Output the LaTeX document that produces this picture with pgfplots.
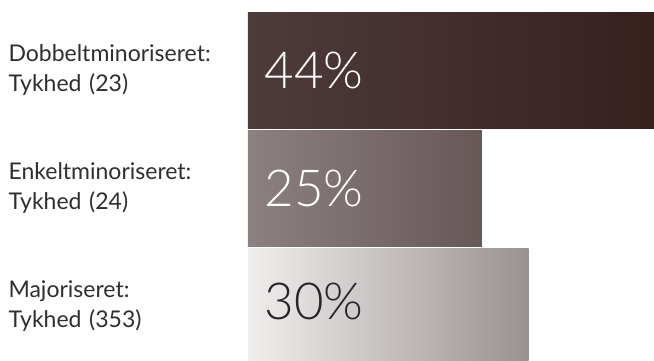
\documentclass[border=0pt]{standalone}
\usepackage{pgfplots}
\pgfplotsset{compat=1.18}
\usepackage{fontspec}
\setmainfont{Lato}
\newfontfamily\numfont{Lato Light}
\definecolor{aL}{HTML}{4E3C3A}
\definecolor{aR}{HTML}{371F1E}
\definecolor{bL}{HTML}{8C8080}
\definecolor{bR}{HTML}{675858}
\definecolor{cL}{HTML}{F0EEED}
\definecolor{cR}{HTML}{9A9191}
\begin{document}
\begin{tikzpicture}
\path[use as bounding box] (0pt,0pt) rectangle (654pt,361pt);
\begin{axis}[
  at={(248pt,0pt)}, anchor=south west,
  scale only axis,
  width=406pt, height=361pt,
  xmin=0, xmax=43.4,
  ymin=-0.462, ymax=2.597,
  axis line style={draw=none},
  tick style={draw=none},
  xtick=\empty,
  ytick={0,1,2},
  yticklabels={{Majoriseret:\\Tykhed (353)},{Enkeltminoriseret:\\Tykhed (24)},{Dobbeltminoriseret:\\Tykhed (23)}},
  yticklabel style={text width=235pt, align=left, inner sep=0pt, xshift=0pt,
    font=\fontsize{23}{30}\selectfont, text=black!82},
  clip=true,
  xbar, bar width=0.983, bar shift=0pt,
]
\addplot[draw=none, left color=aL, right color=aR] coordinates {(44,2)};
\addplot[draw=none, left color=bL, right color=bR] coordinates {(25,1)};
\addplot[draw=none, left color=cL, right color=cR] coordinates {(30,0)};
\node[anchor=west, text=white, font=\numfont\fontsize{51}{51}\selectfont] at (axis cs:1.4,2) {44\%};
\node[anchor=west, text=white, font=\numfont\fontsize{51}{51}\selectfont] at (axis cs:1.4,1) {25\%};
\node[anchor=west, text=black!85, font=\numfont\fontsize{51}{51}\selectfont] at (axis cs:1.4,0.04) {30\%};
\end{axis}
\end{tikzpicture}
\end{document}
